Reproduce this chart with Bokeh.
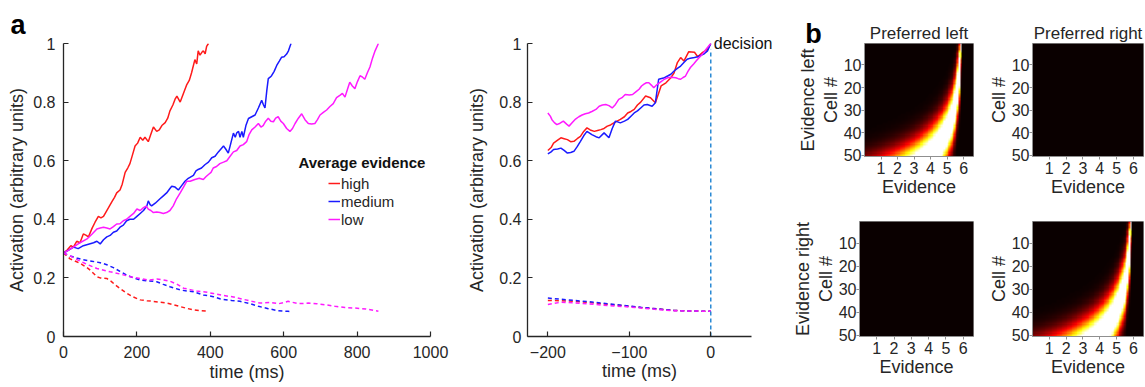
import numpy as np
from bokeh.plotting import figure
from bokeh.layouts import row, column
from bokeh.models import (Range1d, FixedTicker, NumeralTickFormatter, Label, Legend,
                          LegendItem, LinearAxis, LinearColorMapper, Title)
from bokeh.embed import file_html
from bokeh.resources import INLINE

# ---------------- data: panel a (left), activation vs time ----------------
high_t = [0, 10, 20, 27, 36, 45, 54, 62, 68, 78, 86, 95, 102, 109, 118, 125, 132, 139, 145, 154,
          160, 168, 175, 181, 188, 195, 202, 209, 216, 222, 231, 238, 245, 254, 261, 268, 277, 284, 290, 298,
          304, 309, 318, 327, 336, 343, 349, 358, 363, 367, 372, 377, 381, 386, 390, 395]
high_v = [0.285, 0.295, 0.31, 0.305, 0.325, 0.32, 0.35, 0.345, 0.34, 0.37, 0.39, 0.41, 0.405, 0.41, 0.43, 0.445, 0.46, 0.475, 0.49, 0.50,
          0.52, 0.56, 0.575, 0.59, 0.62, 0.65, 0.66, 0.68, 0.67, 0.68, 0.665, 0.69, 0.715, 0.70, 0.705, 0.72, 0.73, 0.745, 0.77, 0.79,
          0.81, 0.82, 0.80, 0.83, 0.86, 0.875, 0.90, 0.945, 0.93, 0.975, 0.96, 0.97, 0.975, 0.965, 0.99, 1.0]

medium_t = [0, 14, 27, 40, 54, 68, 82, 91, 100, 109, 118, 127, 136, 145, 154, 163, 172, 181, 191, 200,
            209, 218, 227, 231, 236, 240, 250, 263, 272, 281, 290, 295, 304, 313, 322, 331, 340, 354, 361, 367,
            376, 386, 395, 404, 413, 422, 429, 436, 442, 449, 456, 463, 468, 472, 477, 481, 486, 490, 497, 504,
            513, 522, 531, 540, 545, 549, 554, 558, 563, 567, 574, 581, 588, 594, 601, 608, 613, 617, 620]
medium_v = [0.285, 0.295, 0.305, 0.30, 0.31, 0.315, 0.32, 0.325, 0.316, 0.33, 0.34, 0.345, 0.356, 0.36, 0.373, 0.38, 0.395, 0.40, 0.40, 0.41,
            0.42, 0.43, 0.445, 0.463, 0.45, 0.446, 0.455, 0.47, 0.48, 0.49, 0.505, 0.513, 0.51, 0.50, 0.515, 0.53, 0.54, 0.55, 0.565, 0.57,
            0.575, 0.587, 0.595, 0.61, 0.615, 0.63, 0.64, 0.65, 0.64, 0.626, 0.66, 0.694, 0.68, 0.695, 0.70, 0.68, 0.70, 0.68, 0.72, 0.744,
            0.75, 0.756, 0.78, 0.806, 0.79, 0.78, 0.84, 0.88, 0.885, 0.89, 0.905, 0.925, 0.94, 0.953, 0.955, 0.964, 0.975, 0.99, 1.0]

low_t = [0, 14, 27, 45, 64, 78, 91, 100, 109, 118, 127, 136, 145, 154, 163, 172, 181, 191, 200, 209,
         218, 225, 231, 238, 245, 254, 263, 272, 281, 290, 299, 308, 318, 327, 336, 345, 358, 370, 381, 388,
         395, 402, 408, 417, 426, 436, 445, 454, 463, 472, 481, 490, 499, 506, 513, 522, 531, 538, 544, 551,
         558, 565, 572, 578, 585, 592, 599, 608, 617, 624, 631, 640, 649, 658, 667, 676, 685, 692, 699, 708,
         717, 726, 735, 744, 753, 760, 767, 774, 780, 787, 794, 801, 808, 815, 821, 828, 835, 842, 849, 858]
low_v = [0.285, 0.295, 0.305, 0.32, 0.333, 0.35, 0.367, 0.37, 0.373, 0.37, 0.367, 0.375, 0.384, 0.385, 0.395, 0.40, 0.41, 0.42, 0.435, 0.43,
         0.44, 0.445, 0.435, 0.43, 0.423, 0.425, 0.423, 0.42, 0.423, 0.43, 0.446, 0.47, 0.49, 0.51, 0.53, 0.53, 0.536, 0.54, 0.536, 0.545,
         0.553, 0.56, 0.575, 0.58, 0.59, 0.595, 0.60, 0.615, 0.63, 0.635, 0.65, 0.655, 0.665, 0.69, 0.705, 0.715, 0.727, 0.715, 0.72, 0.735,
         0.745, 0.735, 0.733, 0.745, 0.75, 0.735, 0.727, 0.71, 0.70, 0.71, 0.727, 0.745, 0.76, 0.74, 0.727, 0.725, 0.727, 0.74, 0.756, 0.765,
         0.773, 0.785, 0.795, 0.815, 0.823, 0.83, 0.817, 0.845, 0.868, 0.855, 0.846, 0.87, 0.89, 0.885, 0.878, 0.9, 0.92, 0.95, 0.975, 1.0]

high_dash_t = [0, 18, 36, 45, 54, 64, 73, 82, 91, 100, 118, 130, 141, 155, 172, 190, 209, 227, 245, 263, 281, 300, 318, 336, 354, 372, 395]
high_dash_v = [0.285, 0.265, 0.255, 0.25, 0.243, 0.235, 0.226, 0.215, 0.204, 0.20, 0.198, 0.188, 0.176, 0.163, 0.148, 0.135, 0.125, 0.122,
               0.12, 0.117, 0.114, 0.108, 0.102, 0.096, 0.091, 0.088, 0.086]
medium_dash_t = [0, 18, 36, 54, 77, 100, 118, 136, 154, 172, 190, 209, 230, 254, 272, 290, 318, 336, 354, 381,
                 408, 428, 458, 481, 508, 531, 558, 585, 612, 620]
medium_dash_v = [0.285, 0.275, 0.268, 0.262, 0.257, 0.252, 0.245, 0.235, 0.222, 0.21, 0.2, 0.193, 0.19, 0.187, 0.178, 0.17, 0.159, 0.155,
                 0.153, 0.142, 0.136, 0.128, 0.123, 0.12, 0.112, 0.103, 0.095, 0.088, 0.086, 0.085]
low_dash_t = [0, 18, 41, 59, 91, 127, 155, 182, 209, 232, 254, 272, 290, 310, 327, 345, 363, 386, 408, 436,
              463, 486, 513, 535, 563, 587, 612, 640, 667, 690, 715, 740, 767, 794, 824, 858]
low_dash_v = [0.285, 0.275, 0.26, 0.249, 0.232, 0.221, 0.213, 0.204, 0.198, 0.192, 0.196, 0.193, 0.189, 0.178, 0.165, 0.16, 0.155, 0.152,
              0.147, 0.14, 0.135, 0.128, 0.12, 0.114, 0.116, 0.112, 0.12, 0.112, 0.114, 0.112, 0.108, 0.103, 0.099, 0.097, 0.094, 0.086]

# ---------------- data: panel a (right), aligned to decision ----------------
mid_high_t = [-200, -196, -193, -188, -184, -180, -176, -172, -168, -164, -160, -156, -152, -148, -143, -139, -135, -131, -127, -123,
              -119, -115, -111, -106, -102, -98, -94, -90, -86, -80, -74, -68, -64, -61, -55, -49, -45, -41, -37, -33,
              -27, -20, -16, -10, -4, 0]
mid_high_v = [0.635, 0.645, 0.66, 0.67, 0.678, 0.675, 0.672, 0.665, 0.666, 0.675, 0.683, 0.70, 0.712, 0.705, 0.70, 0.703, 0.706, 0.71, 0.718, 0.722,
              0.729, 0.735, 0.741, 0.75, 0.763, 0.768, 0.775, 0.79, 0.80, 0.821, 0.815, 0.798, 0.83, 0.855, 0.866, 0.883, 0.90, 0.935, 0.952, 0.94,
              0.972, 0.97, 0.955, 0.97, 0.98, 1.0]
mid_medium_t = [-200, -196, -193, -188, -184, -180, -176, -172, -168, -164, -160, -156, -152, -146, -141, -137, -131, -125, -121, -117,
                -111, -106, -102, -98, -94, -90, -86, -82, -78, -72, -68, -64, -58, -53, -49, -45, -41, -37, -33, -29,
                -25, -20, -16, -12, -8, -4, 0]
mid_medium_v = [0.623, 0.63, 0.638, 0.64, 0.643, 0.635, 0.626, 0.628, 0.632, 0.648, 0.666, 0.685, 0.70, 0.689, 0.682, 0.678, 0.695, 0.678, 0.71, 0.735,
                0.729, 0.735, 0.741, 0.752, 0.763, 0.77, 0.78, 0.79, 0.792, 0.786, 0.798, 0.878, 0.882, 0.889, 0.895, 0.906, 0.915, 0.923, 0.935, 0.946,
                0.95, 0.952, 0.955, 0.96, 0.965, 0.975, 1.0]
mid_low_t = [-200, -197, -195, -192, -189, -185, -181, -177, -174, -170, -166, -162, -158, -154, -150, -146, -141, -137, -133, -129,
             -125, -121, -117, -113, -109, -105, -100, -96, -92, -88, -85, -82, -79, -76, -73, -70, -66, -61, -57, -53,
             -48, -43, -40, -37, -34, -31, -28, -25, -21, -18, -15, -12, -9, -6, -3, 0]
mid_low_v = [0.763, 0.752, 0.74, 0.73, 0.723, 0.728, 0.735, 0.725, 0.718, 0.73, 0.742, 0.75, 0.756, 0.76, 0.763, 0.768, 0.775, 0.786, 0.79, 0.792,
             0.788, 0.78, 0.792, 0.809, 0.815, 0.826, 0.824, 0.826, 0.835, 0.844, 0.855, 0.861, 0.866, 0.866, 0.858, 0.849, 0.86, 0.87, 0.878, 0.883,
             0.885, 0.883, 0.88, 0.878, 0.884, 0.889, 0.905, 0.918, 0.93, 0.94, 0.95, 0.958, 0.968, 0.98, 0.99, 1.0]
mid_dash_t = [-200, -184, -168, -150, -127, -106, -86, -65, -45, -25, 0]
mid_high_dash_v = [0.123, 0.122, 0.12, 0.116, 0.11, 0.105, 0.099, 0.094, 0.089, 0.087, 0.086]
mid_medium_dash_v = [0.131, 0.127, 0.123, 0.119, 0.112, 0.106, 0.1, 0.094, 0.089, 0.087, 0.086]
mid_low_dash_v = [0.109, 0.117, 0.115, 0.111, 0.106, 0.102, 0.097, 0.092, 0.088, 0.087, 0.086]
decision_time = 0
decision_level = 1.0

# ---------------- data: panel b, tuning of cells to evidence ----------------
cell_ids = list(range(1, 51))
preferred_evidence = [5.84, 5.83, 5.83, 5.82, 5.81, 5.81, 5.80, 5.79, 5.79, 5.78,
                      5.77, 5.76, 5.75, 5.74, 5.73, 5.72, 5.70, 5.69, 5.67, 5.66,
                      5.64, 5.62, 5.60, 5.58, 5.56, 5.53, 5.51, 5.48, 5.45, 5.42,
                      5.38, 5.34, 5.30, 5.26, 5.21, 5.17, 5.11, 5.06, 5.00, 4.93,
                      4.86, 4.79, 4.71, 4.62, 4.53, 4.43, 4.32, 4.21, 4.09, 3.96]
max_evidence = 5.9
tuning_log_width = 0.55
evidence_bins = [round(0.05 + 0.1 * k, 2) for k in range(66)]
evidence_ticks = [1, 2, 3, 4, 5, 6]
cell_ticks = [10, 20, 30, 40, 50]

FONT = "Liberation Sans"
TXT = "#262626"
RED, BLUE, MAG = "#ff1a1a", "#1a1aff", "#ff1aff"


def style_axes(p, y_std, y_lab_std, x_std, x_lab_std):
    for ax in (p.xaxis[0], p.yaxis[0]):
        ax.axis_line_color = TXT
        ax.axis_line_width = 1.3
        ax.major_tick_line_color = TXT
        ax.major_tick_line_width = 1.2
        ax.major_tick_in = 5
        ax.major_tick_out = 0
        ax.minor_tick_line_color = None
        ax.major_label_text_font = FONT
        ax.major_label_text_font_size = "16px"
        ax.major_label_text_color = TXT
        ax.axis_label_text_font = FONT
        ax.axis_label_text_font_size = "18px"
        ax.axis_label_text_font_style = "normal"
        ax.axis_label_text_color = TXT
    p.xaxis.major_label_standoff = x_std
    p.xaxis.axis_label_standoff = x_lab_std
    p.yaxis.major_label_standoff = y_std
    p.yaxis.axis_label_standoff = y_lab_std
    p.xgrid.visible = False
    p.ygrid.visible = False
    p.outline_line_color = None


# ---------------- figure A (left) ----------------
pa = figure(width=457, height=387, x_range=Range1d(0, 1000), y_range=Range1d(0, 1),
            output_backend="svg", toolbar_location=None,
            min_border_left=63, min_border_right=27, min_border_top=43, min_border_bottom=51)
r_high = pa.line(high_t, high_v, color=RED, line_width=1.5)
r_med = pa.line(medium_t, medium_v, color=BLUE, line_width=1.5)
r_low = pa.line(low_t, low_v, color=MAG, line_width=1.5)
pa.line(high_dash_t, high_dash_v, color=RED, line_width=1.5, line_dash="4 3")
pa.line(medium_dash_t, medium_dash_v, color=BLUE, line_width=1.5, line_dash="4 3")
pa.line(low_dash_t, low_dash_v, color=MAG, line_width=1.5, line_dash="4 3")
style_axes(pa, 8, 3, 9, 1)
pa.xaxis.ticker = FixedTicker(ticks=[0, 200, 400, 600, 800, 1000])
pa.yaxis.ticker = FixedTicker(ticks=[0, 0.2, 0.4, 0.6, 0.8, 1])
pa.yaxis.formatter = NumeralTickFormatter(format="0.[0]")
pa.xaxis.axis_label = "time (ms)"
pa.yaxis.axis_label = "Activation (arbitrary units)"
pa.title = Title(text="a", align="left", offset=-53, standoff=8, text_font=FONT,
                 text_font_size="27px", text_font_style="bold", text_color="#000000")

legend = Legend(items=[LegendItem(label="high", renderers=[r_high]),
                       LegendItem(label="medium", renderers=[r_med]),
                       LegendItem(label="low", renderers=[r_low])],
                location=(265, 108), glyph_width=12, glyph_height=14, label_standoff=1,
                spacing=0, label_height=18, padding=0, margin=0,
                border_line_alpha=0, background_fill_alpha=0,
                label_text_font=FONT, label_text_font_size="15px", label_text_color=TXT)
pa.add_layout(legend)
pa.add_layout(Label(x=640, y=0.594, text="Average evidence", text_font=FONT, text_font_size="15px",
                    text_font_style="bold", text_color="#111111", text_baseline="middle"))

# ---------------- figure B (middle) ----------------
pb = figure(width=321, height=387, x_range=Range1d(-225, 50), y_range=Range1d(0, 1),
            output_backend="svg", toolbar_location=None,
            min_border_left=70, min_border_right=27, min_border_top=43, min_border_bottom=51)
pb.line(mid_high_t, mid_high_v, color=RED, line_width=1.5)
pb.line(mid_medium_t, mid_medium_v, color=BLUE, line_width=1.5)
pb.line(mid_low_t, mid_low_v, color=MAG, line_width=1.5)
pb.line(mid_dash_t, mid_high_dash_v, color=RED, line_width=1.5, line_dash="4 3")
pb.line(mid_dash_t, mid_medium_dash_v, color=BLUE, line_width=1.5, line_dash="4 3")
pb.line(mid_dash_t, mid_low_dash_v, color=MAG, line_width=1.5, line_dash="4 3")
pb.segment(x0=decision_time, y0=0, x1=decision_time, y1=decision_level - 0.02,
           line_color="#2b8ad4", line_width=1.5, line_dash="4 3")
style_axes(pb, 6, 9, 9, 0)
pb.xaxis.ticker = FixedTicker(ticks=[-200, -100, 0])
pb.yaxis.ticker = FixedTicker(ticks=[0, 0.2, 0.4, 0.6, 0.8, 1])
pb.yaxis.formatter = NumeralTickFormatter(format="0.[0]")
pb.xaxis.axis_label = "time (ms)"
pb.yaxis.axis_label = "Activation (arbitrary units)"
# placed in a side panel so that it is not clipped by the frame
pb.add_layout(Label(x=decision_time, y=decision_level, x_offset=3, text="decision", text_font=FONT,
                    text_font_size="16px", text_color="#111111", text_baseline="middle"), "above")

# ---------------- panel b heatmaps ----------------
def hot_palette(n=256):
    pal = []
    for i in range(n):
        f = i / (n - 1)
        r = 0.04 + 0.96 * min(1.0, f / 0.375)
        g = min(1.0, max(0.0, (f - 0.375) / 0.375))
        b = min(1.0, max(0.0, (f - 0.75) / 0.25))
        pal.append("#%02x%02x%02x" % (int(round(r * 255)), int(round(g * 255)), int(round(b * 255))))
    return pal


mapper = LinearColorMapper(palette=hot_palette(), low=0, high=0.75)
ev = np.array(evidence_bins)
tuning = np.zeros((len(cell_ids), len(ev)))
for i, c in enumerate(preferred_evidence):
    d = max_evidence - ev
    ok = d > 0
    tuning[i, ok] = np.exp(-(np.log(d[ok]) - np.log(max_evidence - c)) ** 2 / (2 * tuning_log_width ** 2))
silent = np.zeros_like(tuning)
ev_lo = evidence_bins[0] - 0.05
ev_hi = evidence_bins[-1] + 0.05


def heat(img, width, height, bl, br, bt, bb, title=None, row_label=None):
    p = figure(width=width, height=height, x_range=Range1d(ev_lo, ev_hi),
               y_range=Range1d(cell_ids[-1] + 0.5, cell_ids[0] - 0.5),
               output_backend="svg", toolbar_location=None,
               min_border_left=bl, min_border_right=br, min_border_top=bt, min_border_bottom=bb)
    p.image(image=[img], x=ev_lo, y=cell_ids[0] - 0.5, dw=ev_hi - ev_lo, dh=len(cell_ids),
            color_mapper=mapper)
    p.xgrid.visible = False
    p.ygrid.visible = False
    p.outline_line_color = "#8f8f8f"
    p.outline_line_width = 1
    for ax in (p.xaxis[0], p.yaxis[0]):
        ax.axis_line_color = "#8f8f8f"
        ax.major_tick_line_color = "#8f8f8f"
        ax.major_tick_in = 0
        ax.major_tick_out = 3
        ax.minor_tick_line_color = None
        ax.major_label_text_font = FONT
        ax.major_label_text_font_size = "16px"
        ax.major_label_text_color = TXT
        ax.axis_label_text_font = FONT
        ax.axis_label_text_font_size = "18px"
        ax.axis_label_text_font_style = "normal"
        ax.axis_label_text_color = TXT
        ax.axis_label_standoff = 0
    p.xaxis.ticker = FixedTicker(ticks=evidence_ticks)
    p.yaxis.ticker = FixedTicker(ticks=cell_ticks)
    p.xaxis.major_label_standoff = 2
    p.yaxis.major_label_standoff = 0
    p.xaxis.axis_label = "Evidence"
    p.yaxis.axis_label = "Cell #"
    if title:
        p.title = Title(text=title, align="center", standoff=1, text_font=FONT,
                        text_font_size="17px", text_font_style="normal", text_color=TXT)
    if row_label:
        extra = LinearAxis(ticker=FixedTicker(ticks=[]), axis_label=row_label,
                           axis_line_color=None, major_tick_line_color=None,
                           minor_tick_line_color=None, major_label_text_font_size="0px",
                           major_label_standoff=0, major_tick_in=0, major_tick_out=0,
                           axis_label_standoff=0,
                           axis_label_text_font=FONT, axis_label_text_font_size="18px",
                           axis_label_text_font_style="normal", axis_label_text_color=TXT)
        p.add_layout(extra, "left")
    return p


h1 = heat(tuning, 207, 202, 81, 12, 43, 46, title="Preferred left", row_label="Evidence left")
h2 = heat(silent, 160, 202, 45, 2, 43, 46, title="Preferred right")
h3 = heat(silent, 207, 185, 81, 12, 19, 51, row_label="Evidence right")
h4 = heat(tuning, 160, 185, 45, 2, 19, 51)
# panel letter, in h1's outer left panel (not clipped by the frame)
h1.add_layout(Label(x=-3.59, y=-3.92, text="b", text_font=FONT, text_font_size="27px",
                    text_font_style="bold", text_color="#000000", text_baseline="alphabetic"), "left")

layout = row(pa, pb, column(row(h1, h2), row(h3, h4)))
open("out.html", "w").write(file_html(layout, INLINE))
